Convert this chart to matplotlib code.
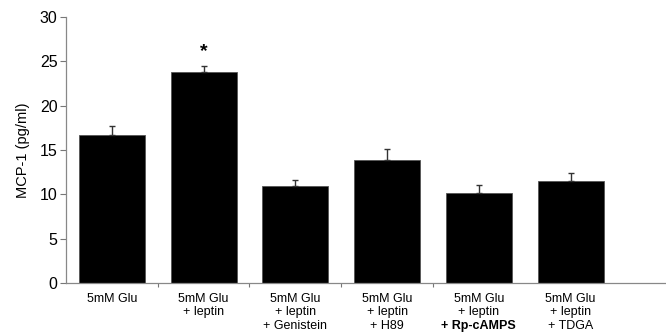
import matplotlib
matplotlib.use("Agg")
import matplotlib.pyplot as plt
from matplotlib.transforms import blended_transform_factory, offset_copy

plt.rcParams['font.family'] = ['Liberation Sans', 'DejaVu Sans']

line1 = ["5mM Glu"] * 6
line2 = ["", "+ leptin", "+ leptin", "+ leptin", "+ leptin", "+ leptin"]
line3 = ["", "", "+ Genistein", "+ H89", "+ Rp-cAMPS", "+ TDGA"]
bold3 = [False, False, False, False, True, False]
values = [16.7, 23.8, 10.9, 13.85, 10.1, 11.45]
errors = [1.0, 0.65, 0.7, 1.2, 0.9, 0.95]
yticks = [0, 5, 10, 15, 20, 25, 30]
star_idx = 1

fig = plt.figure(figsize=(6.66, 3.32), dpi=100)
ax = fig.add_axes([0.099, 0.148, 0.901, 0.801])

x = list(range(len(values)))
ax.bar(x, values, width=0.72, color='black', edgecolor='#555555', linewidth=0.6, zorder=2)
ax.errorbar(x, values, yerr=[[0]*len(values), errors], fmt='none', ecolor='#333333',
            elinewidth=1.0, capsize=2.5, capthick=1.0, zorder=3)
ax.text(star_idx, values[star_idx] + errors[star_idx] + 0.7, "*", ha='center', va='bottom',
        fontsize=14, fontweight='bold')

ax.set_xlim(-0.5, 6.04)
ax.set_ylim(0, 30)
ax.set_yticks(yticks)
ax.set_yticklabels([str(t) for t in yticks], fontsize=11.5)
ax.set_xticks([i + 0.5 for i in range(4)])
ax.set_xticklabels([])
ax.tick_params(axis='x', length=3, color='#777777', width=0.8)
ax.tick_params(axis='y', length=4, color='#777777', width=0.8, pad=2)
for s in ['top', 'right']:
    ax.spines[s].set_visible(False)
for s in ['left', 'bottom']:
    ax.spines[s].set_color('#888888')
    ax.spines[s].set_linewidth(0.9)

ax.set_ylabel("MCP-1 (pg/ml)", fontsize=10.5, labelpad=7)

trans = blended_transform_factory(ax.transData, ax.transAxes)
for i in x:
    lines = [line1[i], line2[i], line3[i]]
    for j, t in enumerate(lines):
        if not t:
            continue
        tr = offset_copy(trans, fig=fig, x=0, y=-(16 + 13.5 * j), units='dots')
        ax.text(i, 0, t, transform=tr, ha='center', va='center', fontsize=9,
                fontweight='bold' if (j == 2 and bold3[i]) else 'normal')

fig.savefig("out.png", dpi=100)
